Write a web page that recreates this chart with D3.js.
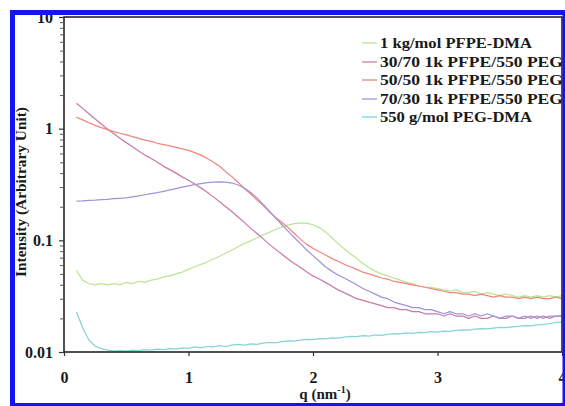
<!DOCTYPE html>
<html>
<head>
<meta charset="utf-8">
<script src="https://cdn.jsdelivr.net/npm/d3@7"></script>
<style>
  html, body { margin: 0; padding: 0; background: #fff; }
  svg { display: block; }
  svg text { font-family: "Liberation Serif", "Times New Roman", Times, serif !important; font-weight: bold; fill: #1a1a1a; }
</style>
</head>
<body>
<svg id="chart" width="565" height="406"></svg>
<script>
// ---- data ----
const q = [0.10,0.15,0.20,0.25,0.30,0.35,0.40,0.45,0.50,0.55,0.60,0.65,0.70,0.75,0.80,0.85,0.90,0.95,1.00,
  1.05,1.10,1.15,1.20,1.25,1.30,1.35,1.40,1.45,1.50,1.55,1.60,1.65,1.70,1.75,1.80,1.85,1.90,1.95,2.00,
  2.05,2.10,2.15,2.20,2.25,2.30,2.35,2.40,2.45,2.50,2.55,2.60,2.65,2.70,2.75,2.80,2.85,2.90,2.95,3.00,
  3.05,3.10,3.15,3.20,3.25,3.30,3.35,3.40,3.45,3.50,3.55,3.60,3.65,3.70,3.75,3.80,3.85,3.90,3.95,4.00];

const pfpeDMA = [0.054,0.044,0.041,0.040,0.041,0.040,0.041,0.040,0.042,0.041,0.043,0.042,0.044,0.045,0.047,0.048,0.050,0.052,0.055,
  0.058,0.061,0.064,0.068,0.072,0.077,0.082,0.088,0.094,0.099,0.105,0.112,0.118,0.125,0.132,0.137,0.141,0.143,0.142,0.138,
  0.130,0.119,0.106,0.094,0.084,0.076,0.069,0.062,0.057,0.053,0.050,0.048,0.046,0.044,0.042,0.041,0.039,0.038,0.038,0.037,
  0.036,0.035,0.036,0.034,0.034,0.035,0.033,0.034,0.033,0.032,0.033,0.032,0.031,0.032,0.031,0.032,0.031,0.032,0.031,0.032];

const blend3070 = [1.69,1.52,1.36,1.22,1.10,0.99,0.90,0.82,0.75,0.69,0.63,0.58,0.54,0.50,0.46,0.43,0.40,0.37,0.345,
  0.32,0.295,0.27,0.245,0.222,0.200,0.180,0.161,0.144,0.128,0.115,0.103,0.092,0.083,0.075,0.068,0.062,0.057,0.052,0.048,
  0.045,0.042,0.039,0.036,0.034,0.032,0.030,0.029,0.028,0.027,0.026,0.025,0.025,0.024,0.024,0.023,0.023,0.022,0.022,0.022,
  0.021,0.022,0.021,0.021,0.020,0.021,0.020,0.020,0.021,0.020,0.020,0.021,0.020,0.020,0.021,0.020,0.021,0.020,0.021,0.021];

const blend5050 = [1.27,1.20,1.13,1.07,1.02,0.98,0.94,0.91,0.88,0.85,0.82,0.79,0.77,0.74,0.72,0.70,0.68,0.66,0.64,
  0.61,0.58,0.54,0.50,0.46,0.41,0.37,0.33,0.29,0.26,0.23,0.205,0.18,0.16,0.145,0.13,0.115,0.102,0.092,0.085,
  0.079,0.074,0.069,0.065,0.061,0.058,0.055,0.052,0.050,0.048,0.046,0.045,0.043,0.042,0.041,0.040,0.039,0.038,0.037,0.036,
  0.035,0.034,0.034,0.033,0.033,0.032,0.033,0.032,0.031,0.032,0.031,0.031,0.030,0.031,0.030,0.031,0.030,0.030,0.031,0.030];

const blend7030 = [0.225,0.226,0.228,0.229,0.231,0.233,0.236,0.238,0.240,0.245,0.250,0.256,0.262,0.268,0.275,0.283,0.291,0.299,0.307,
  0.315,0.322,0.328,0.332,0.333,0.332,0.326,0.313,0.293,0.268,0.240,0.210,0.182,0.158,0.138,0.121,0.106,0.093,0.082,0.073,
  0.065,0.058,0.053,0.049,0.046,0.043,0.040,0.037,0.035,0.033,0.031,0.030,0.028,0.027,0.026,0.025,0.025,0.024,0.024,0.023,
  0.022,0.023,0.022,0.022,0.021,0.022,0.021,0.022,0.021,0.020,0.021,0.021,0.020,0.021,0.020,0.021,0.020,0.021,0.021,0.021];

const pegDMA = [0.0228,0.0165,0.0128,0.0113,0.0107,0.0104,0.0102,0.0103,0.0102,0.0104,0.0103,0.0105,0.0104,0.0106,0.0105,0.0107,0.0106,0.0109,0.0108,
  0.0111,0.0109,0.0112,0.0111,0.0114,0.0112,0.0115,0.0117,0.0115,0.0118,0.0117,0.0120,0.0122,0.0121,0.0124,0.0126,0.0125,0.0128,0.0130,0.0129,
  0.0132,0.0131,0.0134,0.0133,0.0136,0.0138,0.0137,0.0140,0.0139,0.0142,0.0141,0.0144,0.0146,0.0145,0.0148,0.0147,0.0150,0.0149,0.0152,0.0151,
  0.0154,0.0153,0.0156,0.0158,0.0157,0.0160,0.0162,0.0161,0.0164,0.0166,0.0165,0.0168,0.0170,0.0172,0.0171,0.0175,0.0177,0.0180,0.0183,0.0186];

const seriesNames = ["1 kg/mol PFPE-DMA","30/70 1k PFPE/550 PEG","50/50 1k PFPE/550 PEG","70/30 1k PFPE/550 PEG","550 g/mol PEG-DMA"];
const seriesValues = [pfpeDMA, blend3070, blend5050, blend7030, pegDMA];
const seriesColors = ["#bde496","#c97aa8","#f3857a","#9d95d9","#86d4d6"];
const xTicks = [0,1,2,3,4];
const yMajorTicks = [0.01,0.1,1,10];
const yTickLabels = ["0.01","0.1","1","10"];

// ---- drawing ----
const FONT = "'Liberation Serif', 'Times New Roman', Times, serif";
const svg = d3.select("#chart");
const x = d3.scaleLinear().domain([0,4]).range([64,562]);
const y = d3.scaleLog().domain([0.01,10]).range([352,17]);

svg.append("rect").attr("width",565).attr("height",406).attr("fill","#fff");

// lines
const line = d3.line().x((d,i)=>x(q[i])).y(d=>y(d));
seriesValues.forEach((vals,k)=>{
  svg.append("path").datum(vals)
    .attr("d", line)
    .attr("fill","none")
    .attr("stroke", seriesColors[k])
    .attr("stroke-width",1.25)
    .attr("stroke-linejoin","round");
});

// frame
svg.append("rect").attr("x",64).attr("y",17).attr("width",498).attr("height",335)
  .attr("fill","none").attr("stroke","#2b2222").attr("stroke-width",1.6);

// y axis minor ticks
const minor = [];
[0.01,0.1,1].forEach(b=>{ for(let m=2;m<=9;m++) minor.push(b*m); });
const yMinorAxis = d3.axisLeft(y).tickValues(minor).tickSize(4).tickFormat("");
const gm = svg.append("g").attr("transform","translate(64,0)").call(yMinorAxis);
gm.select(".domain").remove();
gm.selectAll("line").attr("stroke","#555").attr("stroke-width",1);

const yAxis = d3.axisLeft(y).tickValues(yMajorTicks).tickSize(5).tickPadding(6)
  .tickFormat((d,i)=>yTickLabels[i]);
const gy = svg.append("g").attr("transform","translate(64,0)").call(yAxis)
  .attr("font-family",FONT);
gy.select(".domain").remove();
gy.selectAll("line").attr("stroke","#333").attr("stroke-width",1.2);
gy.selectAll("text").attr("font-size",16).attr("fill","#1a1a1a").attr("font-weight","bold");

const xAxis = d3.axisBottom(x).tickValues(xTicks).tickSize(4).tickPadding(16).tickFormat(d3.format("d"));
const gx = svg.append("g").attr("transform","translate(0,352)").call(xAxis)
  .attr("font-family",FONT);
gx.select(".domain").remove();
gx.selectAll("line").attr("stroke","#333").attr("stroke-width",1.2);
gx.selectAll("text").attr("font-size",16).attr("fill","#1a1a1a").attr("font-weight","bold");

// axis titles
svg.append("text")
  .attr("transform","translate(26,192) rotate(-90)")
  .attr("text-anchor","middle")
  .attr("font-family",FONT)
  .attr("font-size",14)
  .attr("textLength",170).attr("lengthAdjust","spacingAndGlyphs")
  .text("Intensity (Arbitrary Unit)");

const xt = svg.append("text").attr("x",325).attr("y",399).attr("text-anchor","middle")
  .attr("font-family",FONT).attr("font-size",15);
xt.append("tspan").text("q (nm");
xt.append("tspan").attr("dy",-6).attr("font-size",10).text("-1");
xt.append("tspan").attr("dy",6).text(")");

// legend
const legY = [43,62,80,99,117];
const legW = [152,183,183,183,152];
seriesNames.forEach((name,k)=>{
  svg.append("line").attr("x1",362).attr("x2",377).attr("y1",legY[k]).attr("y2",legY[k])
    .attr("stroke",seriesColors[k]).attr("stroke-width",1.3);
  svg.append("text").attr("x",380).attr("y",legY[k]+5).attr("font-size",14.5)
    .attr("font-family",FONT)
    .attr("textLength",legW[k]).attr("lengthAdjust","spacingAndGlyphs")
    .text(name);
});

// blue border (image frame)
const blue = "#1414f0";
svg.append("rect").attr("x",10).attr("y",10).attr("width",555).attr("height",5).attr("fill",blue);
svg.append("rect").attr("x",10).attr("y",10).attr("width",5).attr("height",396).attr("fill",blue);
svg.append("rect").attr("x",562.5).attr("y",10).attr("width",3).attr("height",396).attr("fill",blue);
svg.append("rect").attr("x",10).attr("y",403).attr("width",555).attr("height",3).attr("fill",blue);
</script>
</body>
</html>
